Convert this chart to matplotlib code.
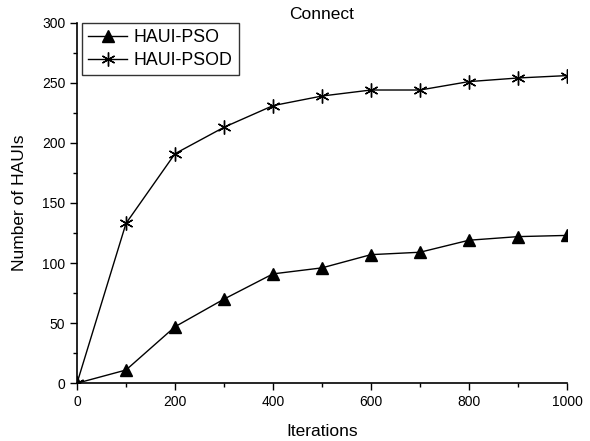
import matplotlib
matplotlib.use("Agg")
import matplotlib.pyplot as plt
from matplotlib.ticker import MultipleLocator

plt.rcParams["font.family"] = ["Liberation Sans", "DejaVu Sans"]

iterations = [0, 100, 200, 300, 400, 500, 600, 700, 800, 900, 1000]
haui_pso = [0, 11, 47, 70, 91, 96, 107, 109, 119, 122, 123]
haui_psod = [0, 133, 191, 213, 231, 239, 244, 244, 251, 254, 256]

fig = plt.figure(figsize=(5.9, 4.41), dpi=100)
ax = fig.add_axes([0.1305, 0.131, 0.8305, 0.8175])

ax.plot(iterations, haui_pso, color="black", lw=1, marker="^", ms=8,
        mfc="black", mec="black", label="HAUI-PSO")
ax.plot(iterations, haui_psod, color="black", lw=1, marker=(6, 2, 0), ms=10,
        mec="black", mew=1, label="HAUI-PSOD")

ax.set_xlim(0, 1000)
ax.set_ylim(0, 300)
ax.xaxis.set_major_locator(MultipleLocator(200))
ax.xaxis.set_minor_locator(MultipleLocator(100))
ax.yaxis.set_major_locator(MultipleLocator(50))
ax.yaxis.set_minor_locator(MultipleLocator(25))
ax.tick_params(which="major", direction="out", length=5, width=1, labelsize=10)
ax.tick_params(which="minor", direction="out", length=3, width=1)
ax.spines["top"].set_visible(False)
ax.spines["right"].set_visible(False)
ax.spines["left"].set_linewidth(1.2)
ax.spines["bottom"].set_linewidth(1.2)
for spine in ("left", "bottom"):
    ax.spines[spine].set_clip_on(False)

ax.set_title("Connect", fontsize=12.5, pad=3)
ax.set_xlabel("Iterations", fontsize=12.5, labelpad=11)
ax.set_ylabel("Number of HAUIs", fontsize=12.5, labelpad=11)

leg = ax.legend(loc="upper left", bbox_to_anchor=(0.01, 1.0), fontsize=12.8,
                frameon=True, fancybox=False, edgecolor="black",
                borderpad=0.35, labelspacing=0.35, handlelength=2.2,
                handletextpad=0.35, borderaxespad=0.0)
leg.get_frame().set_linewidth(1)

fig.savefig("out.png", dpi=100)
